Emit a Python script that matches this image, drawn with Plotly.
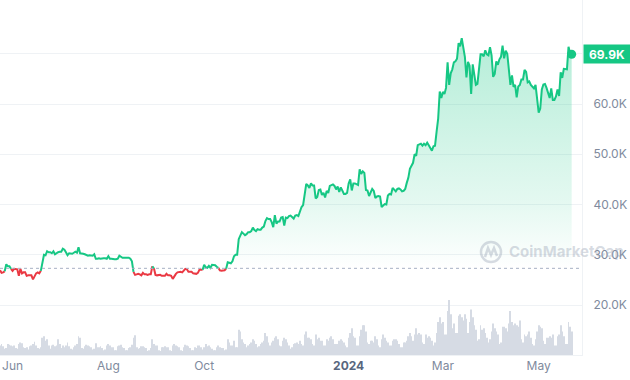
import pandas as pd
import plotly.graph_objects as go

# ---------------- data (BTC price in K USD, daily volume in B USD) ----------------
start_date = "2023-05-24"
end_date = "2024-05-22"
baseline_k = 27.3  # period open price (dotted reference line)

price_may23 = [26.9, 26.4, 26.5, 26.7, 28.1, 27.7, 27.7, 27.2]
price_jun23 = [26.8, 27.2, 27.1, 27.1, 25.8, 27.2, 26.3, 26.5, 26.5, 25.8,
               25.9, 25.9, 25.9, 25.1, 25.6, 26.3, 26.5, 26.3, 26.8, 28.3,
               30.0, 29.9, 30.7, 30.5, 30.5, 30.3, 30.7, 30.1, 30.4, 30.5]
price_jul23 = [30.6, 30.6, 31.2, 31.0, 30.5, 29.9, 30.3, 30.3, 30.2, 30.4,
               30.6, 30.4, 31.5, 30.3, 30.3, 30.2, 30.1, 29.9, 29.8, 29.9,
               29.9, 29.8, 30.1, 29.2, 29.2, 29.3, 29.2, 29.3, 29.3, 29.3, 29.2]
price_aug23 = [29.7, 29.2, 29.2, 29.1, 29.1, 29.1, 29.2, 29.8, 29.6, 29.4,
               29.4, 29.4, 29.3, 29.4, 29.2, 28.7, 26.6, 26.0, 26.1, 26.2,
               26.1, 25.9, 26.4, 26.1, 26.1, 26.0, 26.1, 26.1, 27.7, 27.3, 26.0]
price_sep23 = [25.9, 25.9, 26.0, 25.8, 25.8, 25.8, 26.2, 25.9, 25.9, 25.8,
               25.2, 25.8, 26.2, 26.5, 26.6, 26.6, 26.5, 26.8, 27.2, 27.1,
               26.6, 26.6, 26.6, 26.3, 26.3, 26.2, 26.4, 27.0, 27.0, 27.0]
price_oct23 = [28.0, 27.5, 27.4, 27.8, 27.4, 28.0, 28.0, 27.9, 27.6, 27.4,
               26.9, 26.8, 26.9, 26.9, 27.2, 28.5, 28.4, 28.3, 28.7, 29.7,
               30.0, 30.0, 33.1, 34.0, 34.5, 34.2, 33.9, 34.1, 34.5, 34.5, 34.7]
price_nov23 = [35.4, 34.9, 34.7, 35.1, 35.0, 35.0, 35.4, 35.6, 36.7, 37.3,
               37.1, 37.1, 36.5, 35.5, 37.9, 36.2, 36.6, 36.6, 37.4, 37.5,
               35.8, 37.4, 37.3, 37.7, 37.8, 37.5, 37.2, 37.8, 37.9, 37.7]
price_dec23 = [38.7, 39.5, 39.9, 41.9, 44.1, 43.8, 43.3, 44.2, 43.8, 43.8,
               41.2, 41.5, 42.9, 43.0, 41.9, 42.3, 41.4, 42.7, 42.3, 43.7,
               43.8, 44.0, 43.7, 43.0, 43.6, 42.5, 43.4, 42.6, 42.1, 42.1, 42.3]
price_jan24 = [44.2, 45.0, 42.8, 44.2, 44.2, 44.0, 43.9, 47.0, 46.1, 46.6,
               46.3, 42.9, 42.8, 41.7, 42.5, 43.1, 42.7, 41.3, 41.6, 41.7,
               41.6, 39.5, 39.8, 40.1, 40.0, 41.8, 42.1, 42.0, 43.3, 42.9, 42.6]
price_feb24 = [43.1, 43.2, 43.0, 42.6, 42.7, 43.1, 44.3, 45.3, 47.1, 47.8,
               48.3, 50.0, 49.7, 51.8, 52.0, 52.1, 51.7, 52.1, 51.8, 52.3,
               51.8, 51.3, 50.7, 51.6, 51.7, 54.5, 57.1, 62.5, 61.2]
price_mar24 = [62.4, 62.0, 63.2, 68.3, 63.8, 66.1, 66.9, 68.3, 68.5, 69.0,
               72.1, 71.5, 73.1, 71.4, 69.4, 65.3, 68.4, 67.6, 62.0, 67.9,
               65.5, 63.8, 64.0, 67.2, 69.9, 69.9, 69.5, 70.7, 69.9, 69.7, 71.3]
price_apr24 = [69.7, 65.4, 66.0, 68.5, 67.8, 68.9, 69.4, 71.6, 69.1, 70.6,
               70.0, 67.2, 63.8, 65.7, 63.4, 63.8, 61.3, 63.5, 63.8, 64.9,
               64.9, 66.8, 66.4, 64.3, 64.5, 63.8, 63.4, 63.1, 63.8, 60.6]
price_may24 = [58.3, 59.1, 62.9, 63.9, 64.0, 63.2, 62.3, 61.2, 63.1, 60.8,
               60.8, 61.5, 62.9, 61.6, 66.3, 65.2, 67.0, 67.0, 66.9, 71.4,
               70.1, 69.9]

vol_may23 = [12, 14, 11, 8, 9, 14, 13, 12]
vol_jun23 = [11, 12, 9, 8, 14, 16, 15, 10, 9, 10, 7, 11, 12, 14, 17, 12, 9, 8, 10, 22,
             24, 18, 20, 12, 8, 12, 13, 11, 12, 20]
vol_jul23 = [14, 9, 12, 10, 12, 16, 11, 8, 7, 10, 12, 14, 24, 22, 9, 8, 11, 13, 12, 11,
             10, 7, 8, 15, 10, 10, 11, 9, 6, 7, 12]
vol_aug23 = [14, 12, 10, 10, 6, 6, 11, 12, 13, 10, 9, 6, 6, 9, 10, 13, 22, 25, 10, 8,
             9, 11, 11, 10, 9, 5, 6, 9, 20, 14, 12]
vol_sep23 = [12, 6, 5, 10, 10, 11, 10, 10, 6, 5, 12, 14, 12, 11, 10, 6, 5, 10, 13, 12,
             11, 9, 6, 6, 10, 9, 12, 12, 10, 7]
vol_oct23 = [10, 14, 11, 12, 10, 8, 6, 6, 10, 12, 10, 9, 9, 6, 7, 20, 16, 12, 12, 18,
             10, 10, 32, 30, 20, 16, 14, 10, 12, 14, 16]
vol_nov23 = [20, 18, 14, 10, 11, 14, 16, 18, 28, 24, 16, 12, 16, 18, 22, 24, 20, 12, 11, 18,
             22, 20, 16, 12, 8, 10, 14, 15, 16, 14]
vol_dec23 = [18, 14, 12, 26, 30, 22, 22, 20, 14, 12, 26, 20, 22, 18, 18, 12, 12, 20, 18, 22,
             24, 20, 14, 14, 14, 18, 20, 18, 16, 12, 10]
vol_jan24 = [22, 28, 34, 24, 22, 12, 12, 24, 32, 38, 38, 30, 16, 14, 18, 18, 16, 24, 20, 12,
             10, 20, 26, 22, 18, 16, 12, 12, 18, 20, 20]
vol_feb24 = [18, 14, 10, 10, 16, 16, 18, 24, 28, 24, 18, 26, 34, 26, 28, 26, 16, 14, 26, 22,
             24, 22, 18, 12, 16, 28, 42, 48, 40]
vol_mar24 = [42, 26, 26, 56, 70, 52, 34, 40, 28, 28, 50, 52, 48, 44, 52, 46, 28, 42, 58, 48,
             38, 32, 18, 20, 38, 32, 34, 28, 22, 16, 20]
vol_apr24 = [30, 40, 34, 30, 26, 14, 16, 36, 36, 34, 30, 40, 56, 42, 38, 40, 38, 36, 44, 20,
             16, 26, 24, 26, 30, 22, 14, 12, 20, 30]
vol_may24 = [38, 36, 34, 18, 14, 22, 22, 24, 22, 26, 12, 12, 24, 26, 38, 30, 24, 14, 14, 42,
             36, 30]

x_tick_dates = ["2023-06-01", "2023-08-01", "2023-10-01", "2024-01-01", "2024-03-01", "2024-05-01"]
x_tick_labels = ["Jun", "Aug", "Oct", '<span style="color:#58667e"><b>2024</b></span>', "Mar", "May"]
y_tick_vals_k = [20, 30, 40, 50, 60, 70]
y_tick_labels = ["20.0K", "30.0K", "40.0K", "50.0K", "60.0K", ""]  # 70K hidden behind price tag
last_label = "69.9K"

# ---------------- assemble ----------------
prices_k = (price_may23 + price_jun23 + price_jul23 + price_aug23 + price_sep23 + price_oct23 +
            price_nov23 + price_dec23 + price_jan24 + price_feb24 + price_mar24 + price_apr24 + price_may24)
volumes_b = (vol_may23 + vol_jun23 + vol_jul23 + vol_aug23 + vol_sep23 + vol_oct23 +
             vol_nov23 + vol_dec23 + vol_jan24 + vol_feb24 + vol_mar24 + vol_apr24 + vol_may24)
dates = pd.date_range(start_date, end_date, freq="D")
assert len(dates) == len(prices_k) == len(volumes_b)

prices = [p * 1000 for p in prices_k]
volumes = [v * 1e9 for v in volumes_b]
baseline = baseline_k * 1000

GREEN = "#16c784"
RED = "#ea3943"
GRID = "#eff2f5"
TXT = "#808a9d"
FONT = "Inter"

# split into green / red runs relative to the baseline
runs = []
for i in range(len(prices) - 1):
    col = GREEN if (prices[i] + prices[i + 1]) / 2 >= baseline else RED
    if runs and runs[-1][0] == col:
        runs[-1][1].append(i + 1)
    else:
        runs.append([col, [i, i + 1]])
line_xy = {GREEN: ([], []), RED: ([], [])}
for col, idx in runs:
    xs, ys = line_xy[col]
    xs.extend([dates[j] for j in idx] + [None])
    ys.extend([prices[j] for j in idx] + [None])

fig = go.Figure()

fig.add_trace(go.Bar(x=dates, y=volumes, yaxis="y2", marker_color="#d6dbe4",
                     marker_line_width=0, hoverinfo="skip", showlegend=False))

fig.add_trace(go.Scatter(
    x=dates, y=prices, mode="lines", line=dict(width=0, color=GREEN),
    fill="tozeroy",
    fillgradient=dict(type="vertical", start=baseline, stop=max(prices),
                      colorscale=[[0, "rgba(22,199,132,0.0)"], [0.3, "rgba(22,199,132,0.12)"],
                                  [1, "rgba(22,199,132,0.32)"]]),
    hoverinfo="skip", showlegend=False))

for col in (RED, GREEN):
    xs, ys = line_xy[col]
    fig.add_trace(go.Scatter(x=xs, y=ys, mode="lines", line=dict(color=col, width=2),
                             connectgaps=False, showlegend=False))

fig.add_trace(go.Scatter(x=[dates[-1]], y=[prices[-1]], mode="markers",
                         marker=dict(color=GREEN, size=9), showlegend=False))

# dotted baseline
fig.add_shape(type="line", xref="paper", x0=0, x1=1, yref="y", y0=baseline, y1=baseline,
              line=dict(color="#a6b0c3", width=1, dash="dot"), layer="above")

# watermark (logo + text)
W_COL = "rgba(150,160,178,0.38)"
px2x = lambda p: p / 582
py2y = lambda p: (355 - p) / 355
fig.add_shape(type="circle", xref="paper", yref="paper",
              x0=px2x(481), x1=px2x(501), y0=py2y(262), y1=py2y(242),
              line=dict(color=W_COL, width=2.5))
fig.add_shape(type="path", xref="paper", yref="paper",
              path=f"M {px2x(485)} {py2y(257)} L {px2x(488)} {py2y(248)} L {px2x(491)} {py2y(255)} "
                   f"L {px2x(494)} {py2y(248)} L {px2x(497)} {py2y(256)}",
              line=dict(color=W_COL, width=2.5))
fig.add_annotation(text="<b>CoinMarketCap</b>", xref="paper", yref="paper",
                   x=px2x(507), y=py2y(252), xanchor="left", yanchor="middle",
                   showarrow=False, font=dict(family=FONT, size=15, color=W_COL))

# last price tag
fig.add_annotation(text=f"<b>{last_label}</b>", xref="paper", x=1, xanchor="left", xshift=1,
                   yref="y", y=prices[-1], yanchor="middle", showarrow=False,
                   bgcolor=GREEN, borderpad=3, width=40, height=12,
                   font=dict(family=FONT, size=12, color="white"))

fig.update_layout(
    width=630, height=380,
    margin=dict(l=0, r=48, t=0, b=25),
    paper_bgcolor="white", plot_bgcolor="white",
    bargap=0.45,
    showlegend=False,
    font=dict(family=FONT, size=12, color=TXT),
    xaxis=dict(type="date", range=["2023-05-24", "2024-05-28 14:00"],
               tickvals=x_tick_dates, ticktext=x_tick_labels,
               showgrid=False, zeroline=False, showline=True, linecolor=GRID, linewidth=1,
               ticks="", tickfont=dict(family=FONT, size=12, color=TXT)),
    yaxis=dict(side="right", range=[10050, 80700],
               tickvals=[v * 1000 for v in y_tick_vals_k], ticktext=y_tick_labels,
               showgrid=True, gridcolor=GRID, gridwidth=1, zeroline=False,
               showline=True, linecolor=GRID, linewidth=1, ticks="", ticklabelstandoff=8,
               tickfont=dict(family=FONT, size=12, color=TXT)),
    yaxis2=dict(overlaying="y", range=[0, 452e9], visible=False),
)

fig.write_html("out.html", config={"displayModeBar": False},
               post_script="document.body.style.margin='0';document.body.style.overflow='hidden';")
